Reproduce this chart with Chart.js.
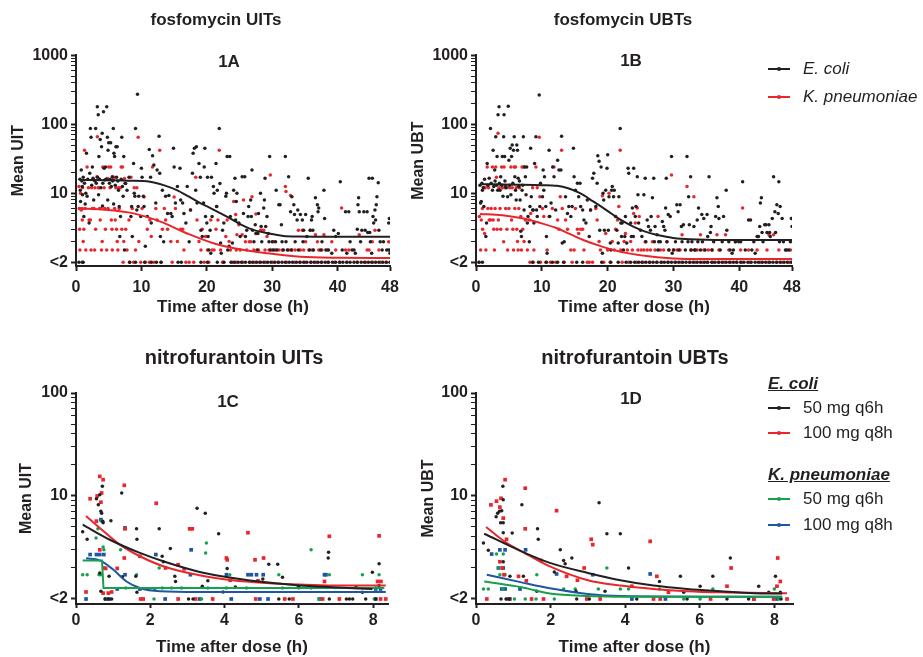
<!DOCTYPE html>
<html>
<head>
<meta charset="utf-8">
<script src="https://cdn.jsdelivr.net/npm/chart.js@4.4.1/dist/chart.umd.min.js"></script>
<style>
  body { margin: 0; background: #fff; width: 923px; height: 657px; position: relative; overflow: hidden;
         font-family: "Liberation Sans", Arial, sans-serif; color: #231f20; }
  .panel { position: absolute; }
  .key { position: absolute; font-size: 17px; line-height: 20px; white-space: nowrap; }
  .key .swatch { position: absolute; left: 0; top: 9px; width: 22px; height: 2px; }
  .key .swatch::after { content: ""; position: absolute; left: 9px; top: -1px; width: 4px; height: 4px;
                        border-radius: 50%; background: inherit; }
  .key .lbl { position: absolute; left: 35px; top: 0; }
  .head { position: absolute; font-size: 17px; line-height: 20px; font-weight: bold; font-style: italic;
          text-decoration: underline; white-space: nowrap; }
</style>
</head>
<body>
<div class="panel" style="left:0;top:0;width:432px;height:330px"><canvas id="c1a"></canvas></div>
<div class="panel" style="left:400px;top:0;width:446px;height:330px"><canvas id="c1b"></canvas></div>
<div class="panel" style="left:0;top:330px;width:468px;height:327px"><canvas id="c1c"></canvas></div>
<div class="panel" style="left:402px;top:330px;width:466px;height:327px"><canvas id="c1d"></canvas></div>

<div class="key" style="left:768px;top:59px"><i class="swatch" style="background:#231f20"></i><span class="lbl" style="font-style:italic">E. coli</span></div>
<div class="key" style="left:768px;top:87px"><i class="swatch" style="background:#e8262c"></i><span class="lbl" style="font-style:italic">K. pneumoniae</span></div>

<div class="head" style="left:768px;top:374px">E. coli</div>
<div class="key" style="left:768px;top:398px"><i class="swatch" style="background:#231f20"></i><span class="lbl">50 mg q6h</span></div>
<div class="key" style="left:768px;top:423px"><i class="swatch" style="background:#e8262c"></i><span class="lbl">100 mg q8h</span></div>
<div class="head" style="left:768px;top:465px">K. pneumoniae</div>
<div class="key" style="left:768px;top:489px"><i class="swatch" style="background:#16a04b"></i><span class="lbl">50 mg q6h</span></div>
<div class="key" style="left:768px;top:515px"><i class="swatch" style="background:#1f55a5"></i><span class="lbl">100 mg q8h</span></div>

<script>
// ---- 1A fosfomycin UITs: [hours, mean titre]; "Below" = hours with a <2 result
var fosUitEcoli = [[0.6,16],[0.65,11],[0.7,7.6],[0.8,21.8],[0.9,15],[0.96,12.5],[1.0,9.5],[1.1,17],[1.2,4.6],[1.3,14],[1.4,7],[1.5,10],[1.6,38],[1.7,9],[1.8,16],[2,3.7],[2.1,19.5],[2.2,87],[2.3,65],[2.4,13],[2.5,24],[2.6,16.5],[2.7,8],[2.75,15.6],[2.9,15],[3,87],[3.1,14],[3.26,180],[3.3,17],[3.4,137],[3.45,9.5],[3.5,34],[3.6,16],[3.7,60],[3.8,12],[3.9,47],[4,74],[4.05,6.5],[4.1,14],[4.2,152],[4.3,23],[4.4,15.5],[4.5,24],[4.6,16],[4.7,180],[4.8,65],[4.85,8],[4.9,42],[5,54],[5.1,14],[5.2,16],[5.3,54],[5.4,12.5],[5.55,17.4],[5.6,15],[5.7,87],[5.75,7],[5.8,38],[5.9,34],[6,13],[6.1,47],[6.2,17],[6.3,47],[6.4,15],[6.5,11],[6.6,6.4],[6.7,2.35],[6.8,4.6],[6.9,16],[7,65],[7.1,12.5],[7.2,9],[7.3,34],[7.4,1.5],[7.5,14],[7.6,13.8],[7.8,11],[8.1,17],[8.4,4.6],[8.5,6.4],[8.6,2.35],[8.8,27],[8.9,10],[9,9],[9.1,87],[9.3,5.7],[9.4,272],[9.5,6.4],[9.6,9],[9.9,4.6],[10,23],[10.1,17],[10.3,9],[10.4,6.4],[10.6,1.7],[10.9,4.6],[11.2,43],[11.4,17],[11.5,3.7],[11.7,35],[11.9,25.6],[12.2,7.2],[12.4,21.8],[12.7,67],[12.8,19.4],[12.9,2.35],[13.2,11],[13.4,1.97],[13.7,9],[14,5.1],[14.2,9.3],[14.5,5.1],[14.7,4.6],[14.9,45],[15,24],[15.2,7.2],[15.5,12.5],[15.9,23],[16,8],[16.3,7.2],[16.5,5.1],[16.8,3.7],[17,12.5],[17.3,1.97],[17.5,5.7],[17.8,19.4],[17.9,38],[18.1,45],[18.3,11],[18.4,47],[18.5,7.2],[18.8,27],[19,17],[19.1,2.9],[19.3,2.35],[19.5,7.2],[19.6,24],[19.7,45],[19.8,4.6],[20,3.7],[20.1,17],[20.2,2.35],[20.3,1.5],[20.5,2.9],[20.6,1.35],[20.7,17],[20.8,4.6],[21,12.5],[21.1,10],[21.4,27],[21.5,6.4],[21.6,11],[21.9,87],[22,13.8],[22.1,1.9],[22.2,1.35],[22.4,2.9],[22.6,3.7],[22.9,9],[23,10],[23.1,34],[23.2,1.5],[23.4,1.7],[23.5,34],[23.6,4.6],[23.9,1.9],
  [24.1,11],[24.3,16.5],[24.4,4.1],[24.5,7.6],[24.6,10],[24.9,3.7],[25.1,2.35],[25.4,17.4],[25.6,5.1],[25.8,17.4],[25.9,2.35],[26.1,2.9],[26.3,4.6],[26.4,6.4],[26.7,8],[26.8,4.6],[26.9,21.8],[27,2.9],[27.2,1.97],[27.4,3.5],[27.5,2.6],[27.7,1.5],[27.8,2.6],[27.9,5.1],[28.2,10],[28.3,3.3],[28.4,1.97],[28.7,6.1],[28.8,8],[28.9,16.5],[29,3.3],[29.2,4.6],[29.4,2.6],[29.5,1.97],[29.6,34],[29.7,1.5],[30,1.97],[30.2,1.5],[30.5,1.97],[30.6,11],[30.7,1.5],[31,6.8],[31.2,6.8],[31.4,3.5],[31.5,1.97],[31.7,1.5],[32,34],[32.1,1.97],[32.3,1.5],[32.5,17.4],[32.8,5.4],[32.9,1.5],[33,8.9],[33.3,6.8],[33.4,4.9],[33.5,1.97],[33.8,4.1],[33.9,5.7],[34,1.5],[34.3,4.9],[34.6,4.1],[34.7,1.97],[34.8,2.9],[35.1,4.9],[35.3,2.35],[35.5,16.5],[35.7,1.5],[35.8,2.9],[36,4.1],[36.1,4.6],[36.2,2.9],[36.3,1.5],[36.6,8.6],[36.9,6.8],[37,5.4],[37.1,6.1],[37.4,1.5],[37.6,1.97],[37.9,11],[38,4.3],[38.2,1.5],[38.6,1.5],[39.1,1.35],[39.4,2.9],[39.7,2.35],[40.1,2.6],[40.4,14.7],[40.7,1.5],[41.2,5.4],[41.4,1.35],[41.7,5.4],[41.9,1.97],[42.2,1.5],[42.5,1.5],[42.7,1.35],[43,3],[43.1,6.8],[43.2,8.6],[43.3,5.4],[43.5,1.97],[43.7,2.9],[44,5.4],[44.2,2.9],[44.5,5.4],[44.6,2.7],[44.8,16.5],[44.9,2.7],[45,1.97],[45.2,1.35],[45.3,16.5],[45.4,4.6],[45.5,3.7],[45.7,5.7],[45.8,4.1],[45.9,6.8],[46,8.9],[46.2,14.2],[46.3,2.9],[46.5,1.97],[46.8,1.5],[47,1.97],[47.5,1.5],[47.8,3.7],[47.9,4.3],[47.8,1.5],[48,1.35]];
var fosUitEcoliBelow = [0.45,0.96,1.1,8.2,9.1,10.5,11.5,12.3,13,15.6,16.1,19.1,20.1,21.6,22.6,23.7,24.2,24.8,25.3,25.9,26.5,27.0,27.6,28.2,28.7,29.3,29.8,30.4,30.9,31.5,32.0,32.6,33.1,33.7,34.2,34.8,35.3,35.9,36.4,37.0,37.5,38.1,38.6,39.2,39.7,40.3,40.8,41.4,41.9,42.5,43.0,43.6,44.1,44.7,45.2,45.8,46.3,46.9,47.4,48.0];
var fosUitKp = [[0.45,12.5],[0.5,6],[0.55,3],[0.6,1.5],[0.7,10],[0.8,5.7],[0.9,6],[0.96,4.1],[1.0,12],[1.1,2],[1.2,3],[1.3,42],[1.4,6],[1.5,1.5],[1.7,24],[1.9,12],[2,4.1],[2.2,4.1],[2.3,1.5],[2.4,12],[2.5,6],[2.75,6],[2.85,1.5],[2.9,12],[3,3],[3.2,17.4],[3.26,66],[3.4,12],[3.5,12],[3.6,6],[3.7,4.1],[3.8,6],[3.9,1.5],[4,2],[4.1,24],[4.3,12],[4.4,6],[4.5,3],[4.7,1.5],[4.8,16.3],[4.9,6],[5,24],[5.2,12],[5.3,24],[5.4,4.1],[5.5,3],[5.55,1.5],[5.7,16.3],[5.8,17],[5.9,6],[6,4.1],[6.1,12],[6.2,3],[6.3,2],[6.4,1.5],[6.5,12],[6.6,6],[6.8,12],[6.9,24],[7,3],[7.1,24],[7.3,2],[7.4,16.3],[7.6,3],[7.8,1.5],[8.1,4.1],[8.4,17],[8.6,6],[8.9,12],[9.1,1.5],[9.3,12],[9.5,65],[9.6,2],[10.1,6],[10.4,8.8],[10.9,3],[11.3,4.1],[11.5,2.35],[11.7,24],[12.2,6],[12.4,4.1],[12.8,42],[13.2,3],[13.5,6],[13.7,4.1],[14,3],[14.5,2],[15,8.8],[15.2,6],[15.5,2],[16,3],[16.3,3],[16.5,1.5],[17.5,5.7],[18.3,17],[18.5,4.1],[18.8,2],[19.1,1.5],[19.3,3],[19.8,2.35],[20.1,1.5],[20.6,4.1],[20.8,1.5],[21.1,1.5],[21.4,3],[21.5,6.4],[21.7,4.1],[21.9,42],[22.1,1.5],[22.9,2.35],[23.1,4.1],[23.4,2],[23.6,1.5],
  [24.1,7.6],[24.4,4.9],[24.5,1.5],[24.6,2.5],[24.9,3.5],[25.1,1.5],[25.4,2.5],[25.6,8],[25.9,1.97],[26.1,1.5],[26.5,1.97],[26.7,1.97],[26.9,8.9],[27.2,1.5],[27.5,5],[27.9,1.5],[28.2,2.9],[28.4,2.9],[28.7,2.9],[28.9,1.5],[29.2,2.35],[29.5,1.5],[29.7,18.4],[30,1.5],[30.2,1.97],[30.5,1.5],[31,1.5],[31.5,1.5],[32,12.5],[32.1,10.6],[32.5,1.5],[32.8,9.3],[33,1.5],[33.5,1.5],[34,2.9],[34.3,1.5],[34.6,2.9],[34.8,1.5],[35.1,1.97],[35.6,1.5],[35.8,2.9],[36.1,1.5],[36.6,2.5],[36.9,1.97],[37.1,1.5],[37.6,1.5],[37.9,2.5],[38.4,1.5],[39.1,1.97],[39.7,1.5],[40.6,6.1],[41.2,1.5],[41.7,1.5],[43.3,2.5],[44.5,1.5],[44.8,1.5],[45.3,1.97],[45.7,2.9],[46.3,1.5],[47.8,1.97],[48,1.5]];
var fosUitKpBelow = [7.2,8.2,8.8,9.9,10.6,11.2,11.9,13.0,14.7,16.8,17.3,18,19.6,20.3,22.4,22.6,23.9,24.5,25.5,26.6,27.3,28,29,30.1,31,32.2,33.4,34.3,35,35.9,36.7,37.6,38.5,39.5,40.3,41.4,43,44.3,45.4,46.6,47.5];
var fosUitEcoliFit = [[0.6,15.6],[5,15.4],[8,15.2],[11.3,14.7],[13.5,13],[15.4,11.1],[17.2,9],[19,7.2],[21,5.8],[23,4.6],[25,3.6],[27.1,2.94],[29.5,2.6],[31.7,2.4],[34,2.35],[40,2.33],[48,2.33]];
var fosUitKpFit = [[0.6,6.0],[4,5.8],[8.8,5.1],[12.8,3.9],[16.9,2.63],[21,1.88],[25,1.54],[29.2,1.35],[34.3,1.2],[40,1.16],[48,1.15]];

// ---- 1B fosfomycin UBTs
var fosUbtEcoli = [[0.6,13],[0.7,7.2],[0.8,7.6],[0.9,14],[0.97,11],[1.1,12],[1.2,6.4],[1.3,16],[1.5,2.35],[1.6,3.7],[1.7,27],[1.8,13],[2,16.5],[2.2,87],[2.3,14],[2.5,11],[2.6,42],[2.7,12.5],[2.84,21.8],[2.9,15],[3,66],[3.1,13],[3.2,34],[3.3,11],[3.35,137],[3.5,180],[3.55,14],[3.65,11],[3.75,17.4],[3.9,13],[4,34],[4.1,9],[4.2,66],[4.26,137],[4.35,34],[4.4,15],[4.5,12.5],[4.6,12],[4.8,8.9],[4.9,183],[5,30],[5.1,13],[5.2,45],[5.3,9.5],[5.4,34],[5.5,50],[5.6,14],[5.7,42],[5.8,66],[5.9,17.4],[6,11],[6.1,8],[6.2,50],[6.3,42],[6.4,16.5],[6.5,12.5],[6.6,15],[6.7,8],[6.8,2.8],[6.9,2.35],[7,11],[7.1,13],[7.2,66],[7.3,5.7],[7.4,24],[7.5,17.4],[7.6,9.5],[7.7,24],[7.8,3.7],[7.9,4.6],[8.1,1.97],[8.2,6.4],[8.3,45],[8.4,8.9],[8.6,5.7],[8.7,5.7],[8.8,3.7],[8.9,27],[9.1,66],[9.2,5.7],[9.3,4.6],[9.6,265],[9.7,6.4],[9.8,14],[10.1,8.9],[10.2,21.8],[10.3,11],[10.4,17.4],[10.6,6.4],[10.7,2.35],[10.8,1.35],[11.1,42],[11.2,4.6],[11.4,7.2],[11.65,24],[11.85,17.4],[12.1,5.7],[12.4,30],[12.6,21.8],[12.9,21.8],[13,67],[13.1,1.9],[13.4,1.97],[13.6,8.9],[13.9,5.1],[14.1,6.4],[14.4,4.6],[14.6,6.4],[14.8,45],[14.9,17.4],[15.1,11],[15.4,14],[15.6,8.9],[15.8,14],[15.9,6.4],[16.2,5.7],[16.4,4.1],[16.7,3.7],[16.9,8],[17.2,2.35],[17.4,5.7],[17.7,16.5],[17.9,19.4],[18.2,6.4],[18.4,14],[18.5,35],[18.7,29],[18.8,2.9],[19,24],[19.2,1.35],[19.3,10],[19.4,8],[19.5,2.9],[19.7,11],[19.9,23],[20,36],[20.1,2.9],[20.2,8.9],[20.4,1.9],[20.5,1.5],[20.6,11],[20.7,12.5],[20.9,8.9],[21,11],[21.2,4.6],[21.4,2.9],[21.6,1.9],[21.7,8.9],[21.9,87],[22,3.7],[22.1,2.35],[22.2,3.7],[22.4,1.5],[22.6,2.35],[22.7,4.6],[22.9,1.9],[23.1,23],[23.2,19.4],[23.5,3.7],[23.6,2.35],[23.75,6.1],[23.9,2.35],
  [23.95,23],[24.2,4.6],[24.3,6.4],[24.5,17.4],[24.6,9.5],[24.7,3.7],[25,2.9],[25.2,2.35],[25.5,9.5],[25.7,16.5],[25.8,1.97],[26,4.1],[26.2,3.3],[26.5,2.9],[26.6,4.6],[26.8,8.6],[27,16.5],[27.1,1.97],[27.2,3.3],[27.5,2.5],[27.65,1.5],[27.75,1.97],[28,1.97],[28.3,3.9],[28.5,3.3],[28.7,2.9],[28.8,6.1],[28.9,16.5],[29,1.97],[29.2,4.9],[29.3,1.5],[29.5,4.6],[29.7,34],[29.8,1.35],[30,1.5],[30.3,1.97],[30.5,6.8],[30.7,5.4],[30.8,1.5],[31,6.8],[31.2,3.3],[31.3,1.97],[31.5,3.5],[31.8,1.5],[32.05,34],[32.2,1.97],[32.3,8.9],[32.4,3.5],[32.6,17.4],[32.7,1.5],[32.8,1.97],[33.1,3.3],[33.2,1.5],[33.3,1.5],[33.6,4.1],[33.7,1.97],[33.8,6.1],[34.1,1.5],[34.3,4.9],[34.4,1.97],[34.6,4.3],[34.8,1.5],[35.1,4.9],[35.2,2.35],[35.4,17.4],[35.6,2.7],[35.7,3.3],[35.85,1.5],[36.1,1.97],[36.4,4.6],[36.6,8.6],[36.8,6.4],[36.9,4.3],[37.1,1.5],[37.4,1.97],[37.6,4.6],[38,11],[38.1,2.9],[38.4,1.97],[38.6,1.5],[38.9,1.35],[39.1,1.5],[39.4,1.97],[39.9,1.97],[40.2,1.97],[40.5,14.7],[40.9,1.5],[41.4,4.1],[41.7,4.1],[41.9,1.5],[42.2,1.97],[42.4,1.35],[42.7,2.35],[42.9,2.35],[43.1,3.3],[43.2,7.2],[43.35,8.6],[43.45,2.7],[43.6,1.97],[43.85,3.5],[44.05,3.5],[44.2,2.7],[44.5,3.5],[44.6,2.7],[44.7,2.35],[45,4.3],[45.2,17.4],[45.4,5.4],[45.5,2.7],[45.7,6.8],[45.9,5.1],[46,14.7],[46.1,1.97],[46.2,6.4],[46.5,4.3],[46.7,1.97],[47,1.5],[47.2,1.5],[47.5,1.5],[47.75,1.97],[47.9,4.3],[48,3.3]];
var fosUbtEcoliBelow = [0.46,0.97,8.6,9.5,10.7,11.6,12.4,13.3,15.3,16.2,19.1,20.4,21.6,22.8,23.5,24.1,24.7,25.2,25.8,26.4,26.9,27.5,28.1,28.6,29.2,29.7,30.3,30.8,31.4,31.9,32.5,33.0,33.6,34.1,34.7,35.2,35.8,36.3,36.9,37.4,38.0,38.5,39.1,39.6,40.2,40.7,41.3,41.8,42.4,42.9,43.5,44.0,44.6,45.1,45.7,46.2,46.8,47.3,47.9];
var fosUbtKp = [[0.5,4.6],[0.7,1.5],[0.8,4.1],[0.97,6],[1.0,3],[1.2,12],[1.3,2.6],[1.4,12],[1.5,1.5],[1.7,24],[1.8,6],[1.9,12],[2,4.1],[2.2,4.1],[2.3,6],[2.5,24],[2.6,4.1],[2.7,3],[2.8,1.5],[2.9,6],[3,24],[3.1,17],[3.2,3],[3.35,74],[3.4,4.1],[3.5,12],[3.65,6],[3.75,3],[3.9,24],[4,12],[4.2,1.97],[4.26,24],[4.4,12],[4.5,6],[4.7,3],[4.8,1.5],[5,6],[5.1,12],[5.3,24],[5.4,4.1],[5.5,12],[5.6,3],[5.7,1.5],[5.8,24],[5.9,6],[6,24],[6.1,12],[6.2,3],[6.3,2],[6.4,1.5],[6.5,6],[6.6,12],[6.8,4.6],[6.9,1.5],[7,24],[7.1,3],[7.2,24],[7.3,2],[7.5,4.1],[7.8,1.5],[8.1,4.1],[8.3,5.1],[8.6,12],[8.8,1.5],[9.1,24],[9.3,12],[9.6,65],[9.7,8.9],[10.1,6],[10.3,4.6],[10.8,1.5],[11.1,4.6],[11.6,6],[11.85,24],[12.4,4.1],[12.6,3],[12.8,8.9],[13,42],[13.1,6],[13.6,4.1],[13.9,3],[14.4,1.5],[14.9,1.5],[15.1,6],[15.4,3],[15.6,2.6],[15.9,3],[16.2,3],[16.4,1.5],[17.4,5.7],[18.2,6],[18.4,4.1],[18.7,2],[18.9,1.5],[19.2,9.2],[19.7,2.6],[20,1.5],[20.2,10],[20.7,2],[21,1.5],[21.2,3],[21.5,4.1],[21.7,6.4],[21.9,42],[22,1.5],[22.5,2],[22.7,2.6],[23,1.5],[23.5,2],[23.75,1.5],
  [23.95,5.1],[24.2,3.7],[24.5,6.1],[24.6,1.5],[24.8,4.6],[25.1,1.5],[25.5,1.5],[25.7,1.97],[26,1.5],[26.5,1.5],[26.8,1.97],[27.2,1.5],[27.65,4.6],[28,1.5],[28.5,1.5],[29,1.97],[29.3,1.5],[29.7,18.4],[30,1.5],[30.5,1.5],[31,1.5],[31.3,2.5],[32.05,12.5],[32.6,1.5],[33.1,8.9],[33.6,1.5],[34.1,2.5],[34.6,1.5],[35.3,1.5],[35.85,1.5],[36.6,2.5],[36.9,1.5],[37.9,2.5],[38.4,1.5],[39.4,1.97],[40.2,1.5],[40.5,6.1],[41.4,1.5],[42.7,1.5],[44.2,1.5],[44.5,2.5],[45.2,2.5],[46,1.5],[47.75,1.5]];
var fosUbtKpBelow = [0.46,8.2,8.7,9.8,10.6,11.3,12.1,13.4,14.6,16.9,17.2,17.7,19.4,20.5,22.2,23.2,24.4,25.4,26.3,27.4,28.2,29.1,30.2,31.2,32.4,33.3,34.4,35.1,36,36.8,37.7,38.7,39.6,40.4,41.6,43.2,44.4,45.6,46.5,47.6];
var fosUbtEcoliFit = [[0.6,13.5],[6,13.3],[10,13.1],[12.3,12.8],[14,11.8],[15.8,10],[17.8,7.6],[19.8,5.7],[21.8,4.2],[23.9,3.28],[25.6,2.8],[27.4,2.5],[30,2.25],[32.5,2.15],[38,2.1],[48,2.1]];
var fosUbtKpFit = [[0.6,5.0],[4,4.8],[7.2,4.3],[9.8,3.7],[12.3,3.1],[14.3,2.55],[16.3,2.1],[18.6,1.75],[20.9,1.5],[23.4,1.33],[25.9,1.23],[29,1.15],[32.5,1.11],[48,1.11]];

// ---- 1C nitrofurantoin UITs
var nitUitEc50 = [[0.18,4.5],[0.3,3.8],[0.55,9.4],[0.6,8.2],[0.64,10.3],[0.67,7.1],[0.69,6.8],[0.71,12.4],[0.73,5.5],[0.72,5.7],[0.64,1.79],[0.67,1.19],[0.94,5.75],[0.89,1.66],[1.23,10.7],[1.25,1.64],[1.63,4.8],[1.64,3.8],[1.61,1.66],[1.64,1.16],[2.24,4.8],[2.32,2.6],[2.35,2.3],[2.54,3.1],[2.66,1.66],[2.68,1.48],[3.26,7.6],[3.4,1.33],[3.48,6.8],[3.55,1.5],[3.84,4.3],[3.96,1.17],[4.07,1.98],[4.29,1.31],[5.03,1.56],[5.19,2.17],[5.43,2.17],[5.56,1.63],[5.99,1.32],[6.8,2.84],[6.79,2.5],[7.54,1.31],[7.71,1.16],[7.98,1.82],[8.16,2.2],[8.16,1.35]];
var nitUitEc50Below = [0.78,0.87,0.96,3.03,3.15,5.46,5.74,6.82,7.28,7.36,7.45,7.8,8.07];
var nitUitEc100 = [[0.27,1.17],[0.38,9.4],[0.55,5.7],[0.57,10],[0.64,15.5],[0.67,8.7],[0.69,10.7],[0.73,14.4],[0.64,3.0],[0.75,2],[0.73,1.14],[0.8,1.98],[0.87,1.14],[0.96,1.17],[1.11,1.98],[1.3,12.7],[1.32,4.8],[1.3,2.5],[1.72,2.6],[2.16,8.5],[2.41,2],[2.75,2.15],[2.91,1.96],[3.06,4.8],[3.13,4.8],[4.05,2.5],[4.07,2.4],[4.15,1.52],[4.63,4.4],[4.82,2.4],[4.9,1.5],[5.05,2.5],[6.69,1.48],[6.82,4.06],[8.16,4.1],[8.12,1.48],[8.21,1.48]];
var nitUitEc100Below = [1.74,1.81,2.75,3.22,3.68,4.84,5.62,5.84,6.64,7.09,8.2,8.34];
var nitUitKp50 = [[0.18,1.72],[0.3,1.72],[0.54,3.9],[0.59,4.8],[0.69,5.7],[0.62,1.72],[0.67,1.72],[0.73,3.2],[0.75,3.0],[1.2,3.0],[1.34,1.28],[1.63,1.72],[2.12,1.25],[2.24,2],[2.32,1.28],[2.57,1.28],[2.84,1.28],[3.51,3.5],[3.49,2.8],[3.55,1.28],[4.14,1.72],[4.05,1.28],[4.59,1.28],[5.46,1.72],[5.56,1.28],[6.0,1.28],[6.33,3.0],[6.33,1.28],[6.82,1.72],[7.71,1.72],[8.07,1.28],[8.16,1.72]];
var nitUitKp50Below = [0.8,2.1,3.38,6.55,8.03];
var nitUitKp100 = [[0.38,2.7],[0.55,2.7],[0.64,2.7],[0.67,5.9],[0.75,2.7],[1.32,4.9],[1.32,1.72],[1.11,1.25],[1.72,1.25],[2.15,2.7],[3.08,1.72],[3.1,3.0],[4.05,1.72],[4.63,1.72],[4.72,1.72],[4.86,1.72],[5.04,1.72],[6.69,1.72],[6.73,1.72],[8.07,1.25],[8.2,1.25]];
var nitUitKp100Below = [0.27,0.8,0.89,2.4,3.33,4.18,4.95,5.17,6.55,8.07];
var nitUitEc50Fit = [[0.18,5.27],[0.91,3.76],[1.72,2.8],[2.43,2.27],[3.33,1.83],[4.22,1.6],[5.12,1.45],[6.01,1.35],[6.91,1.3],[7.98,1.25]];
var nitUitEc100Fit = [[0.27,6.4],[0.64,4.9],[1.18,3.37],[1.72,2.6],[2.43,2.03],[3.33,1.7],[4.22,1.52],[5.12,1.43],[6.01,1.38],[6.91,1.35],[8.34,1.35]];
var nitUitKp50Fit = [[0.18,2.37],[0.7,2.37],[0.74,1.28],[8.3,1.28]];
var nitUitKp100Fit = [[0.27,2.48],[0.64,2.37],[1.0,1.93],[1.36,1.48],[1.72,1.28],[2.26,1.19],[3.33,1.17],[8.34,1.17]];

// ---- 1D nitrofurantoin UBTs
var nitUbtEc50 = [[0.2,3.5],[0.33,2.97],[0.54,6.3],[0.58,6.8],[0.63,7.1],[0.66,5.5],[0.69,7.2],[0.72,12.4],[0.73,9.2],[0.73,5.5],[0.73,4.4],[0.73,2.3],[0.91,1.66],[0.97,4.37],[1.23,8.2],[1.27,1.66],[1.65,4.8],[1.67,3.8],[1.63,1.19],[2.1,1.83],[2.26,3.0],[2.35,2.37],[2.39,2.2],[2.57,2.5],[2.68,1.19],[3.3,8.6],[3.46,1.19],[3.51,4.3],[3.87,4.3],[4.09,2.0],[4.92,1.48],[5.48,1.66],[5.57,1.16],[6.01,1.33],[6.35,1.66],[6.82,2.5],[7.58,1.33],[7.85,1.16],[8.03,1.66],[8.16,1.16]];
var nitUbtEc50Below = [0.67,0.81,0.89,2.7,3.04,4.31,5.66,6.73,7.31,8.18];
var nitUbtEc100 = [[0.4,8.2],[0.55,8.9],[0.64,7.8],[0.67,9.5],[0.73,6.1],[0.78,14.4],[0.82,3.8],[0.64,2.3],[0.7,2.0],[0.75,1.72],[1.14,1.66],[1.32,11.9],[1.32,4.8],[1.35,1.5],[1.74,2.36],[2.16,7.2],[2.43,1.66],[2.72,1.52],[2.9,2.0],[3.09,3.8],[3.13,3.37],[4.18,1.33],[4.67,3.63],[4.85,1.66],[5.16,1.16],[6.73,1.33],[6.84,2.0],[8.09,2.5],[8.07,1.33],[8.16,1.48]];
var nitUbtEc100Below = [0.29,0.89,1.49,1.81,2.97,3.33,4.76,4.94,6.29,7.45,7.98,8.34];
var nitUbtKp50 = [[0.2,1.25],[0.33,1.25],[0.55,2.73],[0.6,2.0],[0.64,1.72],[0.73,2.73],[0.78,1.72],[0.72,1.25],[1.63,1.72],[2.35,1.25],[2.66,1.25],[3.28,1.25],[3.51,2.0],[3.87,1.25],[4.09,1.25],[4.92,1.25],[6.35,1.25],[8.0,1.25]];
var nitUbtKp50Below = [0.81,1.03,1.32,1.61,2.1,5.57,6.01,8.12];
var nitUbtKp100 = [[0.42,2.73],[0.6,2.0],[0.64,3.0],[0.69,1.25],[0.78,3.0],[0.73,2.0],[0.78,1.25],[1.33,3.0],[1.18,1.25],[2.16,1.75],[3.13,1.72],[4.67,1.75]];
var nitUbtKp100Below = [0.91,4.18,5.08,7.45,8.07];
var nitUbtEc50Fit = [[0.22,4.3],[1.22,2.9],[1.98,2.24],[3.0,1.79],[3.87,1.52],[4.76,1.35],[5.66,1.25],[6.55,1.19],[7.45,1.14],[8.21,1.13]];
var nitUbtEc100Fit = [[0.27,5.0],[0.82,3.5],[1.26,2.85],[1.98,2.07],[3.0,1.52],[3.87,1.35],[4.76,1.25],[5.66,1.19],[6.55,1.16],[8.34,1.14]];
var nitUbtKp50Fit = [[0.22,1.48],[1.22,1.3],[1.98,1.13],[3.0,1.07],[4.76,1.05],[8.21,1.05]];
var nitUbtKp100Fit = [[0.29,1.72],[1.22,1.45],[1.98,1.27],[3.0,1.12],[3.87,1.07],[8.21,1.05]];

// axis ticks
var fosTicksX = [0, 10, 20, 30, 40, 48];
var nitTicksX = [0, 2, 4, 6, 8];
var fosTicksY = [1, 10, 100, 1000];
var nitTicksY = [1, 10, 100];

var ink = '#231f20', red = '#e8262c', green = '#16a04b', blue = '#1f55a5';
var fam = '"Liberation Sans", Arial, sans-serif';

function pts(pairs, below) {
    var out = pairs.map(function(p) { return {x: p[0], y: p[1]}; });
    (below || []).forEach(function(h) { out.push({x: h, y: 1}); });  // <2 plotted on the "<2" line
    return out;
}

function dots(pairs, below, col, style) {
    return {
        data: pts(pairs, below), backgroundColor: col, borderWidth: 0,
        pointStyle: style || 'circle', pointRadius: style === 'rect' ? 2.6 : 1.75, order: 2
    };
}

function fit(pairs, col, straight) {
    return {
        data: pts(pairs), showLine: true, borderColor: col, borderWidth: 2, pointRadius: 0,
        cubicInterpolationMode: straight ? 'default' : 'monotone', tension: 0, order: 1
    };
}

function logTicks(majors) {
    var t = [];
    for (var i = 0; i < majors.length; i++) {
        t.push({value: majors[i], major: true});
        if (i < majors.length - 1) {
            for (var k = 2; k <= 9; k++) t.push({value: majors[i] * k, major: false});
        }
    }
    return t;
}

// panel title and the 1A..1D tag, placed where the figure has them
var panelText = {
    id: 'panelText',
    afterDraw: function(chart, args, opts) {
        var ctx = chart.ctx, a = chart.chartArea;
        ctx.save();
        ctx.fillStyle = ink;
        ctx.textAlign = 'center';
        ctx.textBaseline = 'middle';
        ctx.font = 'bold ' + opts.size + 'px ' + fam;
        ctx.fillText(opts.title, opts.tx, opts.ty);
        ctx.font = 'bold 17px ' + fam;
        ctx.fillText(opts.label, a.left + opts.dx, a.top + opts.dy);
        ctx.restore();
    }
};

function makePanel(id, o) {
    return new Chart(id, {
        type: 'scatter',
        data: {datasets: o.datasets},
        options: {
            animation: false,
            responsive: true,
            maintainAspectRatio: false,
            layout: {padding: {left: 0, right: o.padRight, top: o.padTop, bottom: 0}},
            plugins: {
                legend: {display: false},
                tooltip: {enabled: false},
                panelText: {title: o.title, size: o.titleSize, tx: o.tx, ty: o.ty, label: o.label, dx: o.dx, dy: o.dy}
            },
            scales: {
                x: {
                    type: 'linear', min: 0, max: o.xMax,
                    afterBuildTicks: function(s) { s.ticks = o.xTicks.map(function(v) { return {value: v}; }); },
                    afterFit: function(s) { s.height = o.xHeight; },
                    grid: {drawOnChartArea: false, tickLength: o.xTickLen, tickWidth: 2, tickColor: ink},
                    border: {color: ink, width: 2},
                    ticks: {color: ink, font: {family: fam, size: 16, weight: 'bold'}, padding: o.xTickPad,
                            autoSkip: false, maxRotation: 0},
                    title: {display: true, text: 'Time after dose (h)', color: ink,
                            font: {family: fam, size: 17, weight: 'bold'}, padding: {top: 0, bottom: o.xTitlePad}}
                },
                y: {
                    type: 'logarithmic', min: o.yMin, max: o.yMax,
                    afterBuildTicks: function(s) { s.ticks = logTicks(o.yTicks); },
                    afterFit: function(s) { s.width = o.yWidth; },
                    grid: {drawOnChartArea: false, tickLength: 5, tickColor: ink,
                           tickWidth: function(c) { return c.tick && c.tick.major ? 2 : 1; }},
                    border: {color: ink, width: 2},
                    ticks: {
                        color: ink, font: {family: fam, size: 16, weight: 'bold'}, padding: 3, autoSkip: false,
                        callback: function(v) {
                            if (v === 1) return '<2';
                            return o.yTicks.indexOf(v) >= 0 ? String(v) : '';
                        }
                    },
                    title: {display: true, text: o.yTitle, color: ink,
                            font: {family: fam, size: 16, weight: 'bold'}, padding: {top: o.yTitlePad, bottom: 0}}
                }
            }
        },
        plugins: [panelText]
    });
}

window.onload = function() {
    var top = {xMax: 48, xTicks: fosTicksX, yMin: 0.88, yMax: 1000, yTicks: fosTicksY, yWidth: 76,
               xHeight: 64, xTickLen: 5, xTickPad: 7, xTitlePad: 12.8, yTitlePad: 8.9, padTop: 55.3,
               ty: 20, titleSize: 17};
    var bot = {xTicks: nitTicksX, yMin: 0.894, yMax: 100, yTicks: nitTicksY,
               xHeight: 53, xTickLen: 4, xTickPad: 3, xTitlePad: -1, yTitlePad: 17, padTop: 63,
               ty: 28, titleSize: 20};

    makePanel('c1a', Object.assign({}, top, {
        title: 'fosfomycin UITs', tx: 216, label: '1A', dx: 153, dy: 7, yTitle: 'Mean UIT', padRight: 42,
        datasets: [
            dots(fosUitEcoli, fosUitEcoliBelow, ink), dots(fosUitKp, fosUitKpBelow, red),
            fit(fosUitEcoliFit, ink), fit(fosUitKpFit, red)
        ]
    }));

    makePanel('c1b', Object.assign({}, top, {
        title: 'fosfomycin UBTs', tx: 223, label: '1B', dx: 155, dy: 6, yTitle: 'Mean UBT', padRight: 54,
        datasets: [
            dots(fosUbtEcoli, fosUbtEcoliBelow, ink), dots(fosUbtKp, fosUbtKpBelow, red),
            fit(fosUbtEcoliFit, ink), fit(fosUbtKpFit, red)
        ]
    }));

    makePanel('c1c', Object.assign({}, bot, {
        title: 'nitrofurantoin UITs', tx: 234, label: '1C', dx: 152, dy: 9, yTitle: 'Mean UIT', padRight: 80,
        xMax: 8.4, yWidth: 76,
        datasets: [
            dots(nitUitEc50, nitUitEc50Below, ink), dots(nitUitEc100, nitUitEc100Below, red, 'rect'),
            dots(nitUitKp50, nitUitKp50Below, green), dots(nitUitKp100, nitUitKp100Below, blue, 'rect'),
            fit(nitUitEc50Fit, ink), fit(nitUitEc100Fit, red),
            fit(nitUitKp50Fit, green, true), fit(nitUitKp100Fit, blue)
        ]
    }));

    makePanel('c1d', Object.assign({}, bot, {
        title: 'nitrofurantoin UBTs', tx: 233, label: '1D', dx: 155, dy: 6, yTitle: 'Mean UBT', padRight: 75,
        xMax: 8.5, yWidth: 74,
        datasets: [
            dots(nitUbtEc50, nitUbtEc50Below, ink), dots(nitUbtEc100, nitUbtEc100Below, red, 'rect'),
            dots(nitUbtKp50, nitUbtKp50Below, green), dots(nitUbtKp100, nitUbtKp100Below, blue, 'rect'),
            fit(nitUbtEc50Fit, ink), fit(nitUbtEc100Fit, red),
            fit(nitUbtKp50Fit, green), fit(nitUbtKp100Fit, blue)
        ]
    }));
};
</script>
</body>
</html>
